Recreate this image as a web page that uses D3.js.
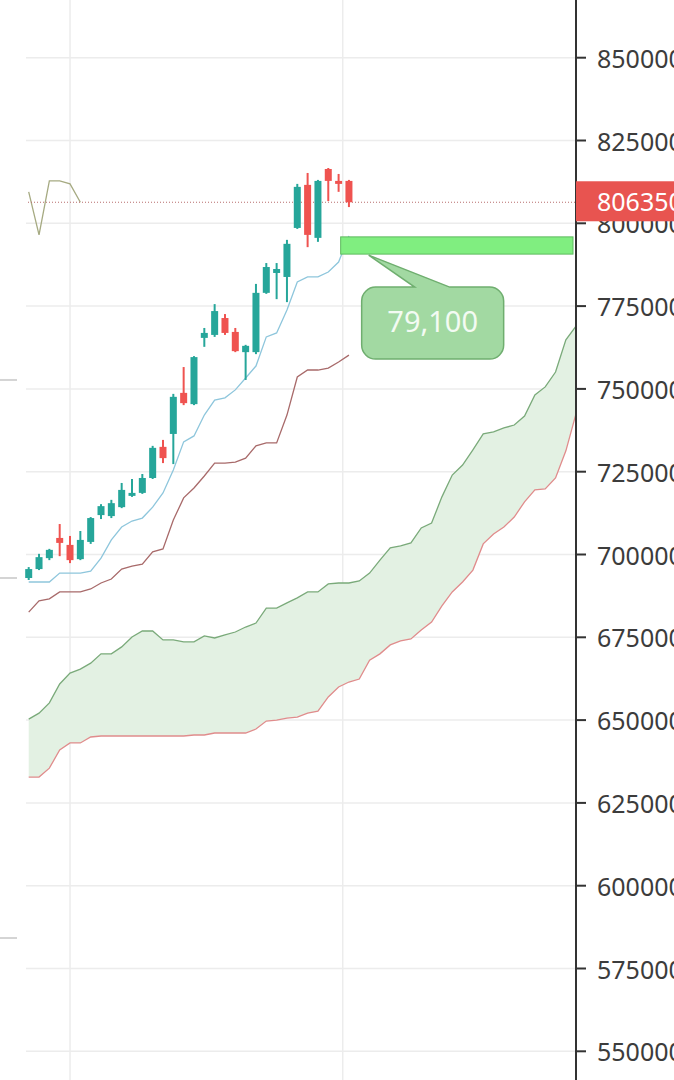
<!DOCTYPE html>
<html>
<head>
<meta charset="utf-8">
<script src="https://cdn.jsdelivr.net/npm/d3@7"></script>
<style>
  body { margin: 0; background: #fff; }
  svg { display: block; font-family: "Noto Sans", sans-serif; }
</style>
</head>
<body>
<script>
// candles (one per period)
var opens  = [692900, 695600, 698900, 705000, 702900, 698600, 703800, 711900, 711600, 714300, 717700, 718600, 723100, 732500, 736400, 748800, 745400, 765400, 766300, 771400, 767200, 761100, 761100, 779000, 785000, 783800, 798600, 811600, 795600, 816400, 812800, 812800];
var highs  = [696200, 700200, 701700, 709200, 705600, 707100, 711300, 715200, 716500, 721600, 722800, 724300, 732800, 734600, 748500, 756600, 759900, 768400, 775600, 772600, 768400, 763300, 781700, 788000, 788000, 795000, 811900, 815200, 813100, 816700, 814900, 813100];
var lows   = [692300, 695300, 698300, 699500, 697400, 698300, 703200, 710700, 711000, 714000, 717400, 718300, 722800, 727600, 727300, 745100, 745100, 762700, 765700, 766300, 761100, 752700, 760500, 778700, 777100, 776200, 798300, 792800, 794400, 806700, 809500, 804900];
var closes = [695600, 699200, 701400, 703500, 698300, 704400, 711000, 714600, 715500, 719500, 718600, 723100, 732200, 729100, 747600, 745700, 759600, 766900, 773500, 766900, 761400, 763000, 779000, 786800, 786200, 793800, 811000, 796500, 812800, 812800, 811900, 806350];

// ichimoku lines
var tenkan = [691700, 691700, 691700, 694400, 694400, 694400, 695000, 698900, 704400, 708300, 710100, 711000, 714300, 718600, 725500, 734000, 735800, 742100, 746600, 747300, 749700, 753300, 756900, 765700, 766900, 773800, 782300, 783800, 783800, 785300, 788300, 796200];
var kijun = [682600, 686000, 686600, 688700, 688700, 688700, 689600, 691400, 692600, 695600, 696500, 697100, 700800, 701700, 710400, 717100, 720100, 723700, 727600, 727600, 727900, 729100, 732800, 733700, 733700, 742100, 753600, 755700, 755700, 756300, 758100, 760200];
var spanA = [650300, 652100, 655200, 660900, 664200, 665400, 667200, 670000, 670000, 672100, 675100, 676900, 676900, 674200, 674200, 673600, 673600, 675400, 674800, 675700, 676600, 678100, 679300, 683800, 683800, 685400, 686900, 688700, 688700, 691100, 691400, 691400, 692000, 694400, 698300, 702000, 702600, 703500, 708000, 709500, 717400, 724000, 727000, 731600, 736400, 737000, 738200, 739100, 741800, 748200, 750600, 755100, 764800, 769000];
var spanB = [632800, 632800, 635500, 641000, 643100, 643100, 644900, 645200, 645200, 645200, 645200, 645200, 645200, 645200, 645200, 645200, 645500, 645500, 646100, 646100, 646100, 646100, 647300, 649700, 650000, 650600, 650900, 652100, 652700, 657000, 660000, 661500, 662400, 668100, 670000, 672700, 673900, 674500, 677200, 679600, 684500, 688700, 691700, 695300, 703200, 706200, 708300, 711300, 715900, 719500, 719800, 723100, 731300, 742700];
var lagging = [809500, 796500, 812800, 812800, 811900, 806350];

var yTicks = [550000, 575000, 600000, 625000, 650000, 675000, 700000, 725000, 750000, 775000, 800000, 825000, 850000];
var timeGrid = [4, 30.4];
var lastPrice = 806350;

// target zone + callout
var zoneFrom = 30.2;
var zoneLow = 790700;
var zoneHigh = 795900;
var zoneLabel = "79,100";

// marks of the neighbouring panel at the left edge
var leftMarks = [752700, 692900, 584200];

var w = 674;
var h = 1080;
var axisX = 576;

var x = d3.scaleLinear().domain([0, 53]).range([28.7, 576.2]);
var y = d3.scaleLinear().domain([550000, 850000]).range([1051.3, 57.7]);

var svg = d3.select("body").append("svg")
    .attr("width", w)
    .attr("height", h);

svg.append("defs").append("clipPath").attr("id", "plot")
    .append("rect").attr("x", 0).attr("y", 0).attr("width", axisX).attr("height", h);

//grid
svg.append("g").selectAll("line")
    .data(yTicks)
    .enter().append("line")
    .attr("x1", 26).attr("x2", axisX)
    .attr("y1", function(d) { return y(d); })
    .attr("y2", function(d) { return y(d); })
    .attr("stroke", "#ececec").attr("stroke-width", 1.5);

svg.append("g").selectAll("line")
    .data(timeGrid)
    .enter().append("line")
    .attr("x1", function(d) { return x(d); })
    .attr("x2", function(d) { return x(d); })
    .attr("y1", 0).attr("y2", h)
    .attr("stroke", "#ececec").attr("stroke-width", 1.5);

svg.append("g").selectAll("line")
    .data(leftMarks)
    .enter().append("line")
    .attr("x1", 0).attr("x2", 17)
    .attr("y1", function(d) { return y(d); })
    .attr("y2", function(d) { return y(d); })
    .attr("stroke", "#d4d4d4").attr("stroke-width", 2);

var plot = svg.append("g").attr("clip-path", "url(#plot)");

//cloud
var cloud = d3.range(spanA.length);
plot.append("path")
    .datum(cloud)
    .attr("d", d3.area()
        .x(function(i) { return x(i); })
        .y0(function(i) { return y(spanB[i]); })
        .y1(function(i) { return y(spanA[i]); }))
    .attr("fill", "#e3f1e3");

function drawLine(values, color, offset) {
    plot.append("path")
        .datum(values)
        .attr("d", d3.line()
            .x(function(d, i) { return x(i + (offset || 0)); })
            .y(function(d) { return y(d); }))
        .attr("fill", "none")
        .attr("stroke", color)
        .attr("stroke-width", 1.3);
}

drawLine(spanA, "#7aaa7a");
drawLine(spanB, "#e08c8c");
drawLine(kijun, "#a86a6a");
drawLine(tenkan, "#8ec6dc");
drawLine(lagging, "#a6aa82");

// last price dotted line
plot.append("line")
    .attr("x1", 28).attr("x2", axisX)
    .attr("y1", y(lastPrice)).attr("y2", y(lastPrice))
    .attr("stroke", "#b86e6e")
    .attr("stroke-width", 1.2)
    .attr("stroke-dasharray", "1,2");

//candles
var up = "#26a69a";
var down = "#ef5350";
var candles = plot.append("g").selectAll("g")
    .data(opens)
    .enter().append("g");

candles.append("line")
    .attr("x1", function(d, i) { return x(i); })
    .attr("x2", function(d, i) { return x(i); })
    .attr("y1", function(d, i) { return y(highs[i]); })
    .attr("y2", function(d, i) { return y(lows[i]); })
    .attr("stroke", function(d, i) { return closes[i] >= d ? up : down; })
    .attr("stroke-width", 2);

candles.append("rect")
    .attr("x", function(d, i) { return x(i) - 3.5; })
    .attr("y", function(d, i) { return y(Math.max(d, closes[i])); })
    .attr("width", 7)
    .attr("height", function(d, i) { return Math.max(2, Math.abs(y(d) - y(closes[i]))); })
    .attr("fill", function(d, i) { return closes[i] >= d ? up : down; });

//zone + callout
var zx = x(zoneFrom);
var zy = y(zoneHigh);
var zb = y(zoneLow);
svg.append("rect")
    .attr("x", zx).attr("y", zy)
    .attr("width", axisX - 3 - zx)
    .attr("height", zb - zy)
    .attr("fill", "#80ee80")
    .attr("stroke", "#5fba5f")
    .attr("stroke-width", 1);

var bx = zx + 21, by = zb + 33, bw = 142, bh = 72, r = 14;
var callout = d3.path();
callout.moveTo(bx + r, by);
callout.lineTo(zx + 74, by);
callout.lineTo(zx + 28, zb + 1);
callout.lineTo(zx + 109, by);
callout.lineTo(bx + bw - r, by);
callout.arcTo(bx + bw, by, bx + bw, by + r, r);
callout.lineTo(bx + bw, by + bh - r);
callout.arcTo(bx + bw, by + bh, bx + bw - r, by + bh, r);
callout.lineTo(bx + r, by + bh);
callout.arcTo(bx, by + bh, bx, by + bh - r, r);
callout.lineTo(bx, by + r);
callout.arcTo(bx, by, bx + r, by, r);
callout.closePath();

svg.append("path")
    .attr("d", callout.toString())
    .attr("fill", "#a2d9a2")
    .attr("stroke", "#6fae6f")
    .attr("stroke-width", 1.5);

svg.append("text")
    .attr("x", bx + bw / 2)
    .attr("y", by + bh / 2 - 3)
    .attr("text-anchor", "middle")
    .attr("dominant-baseline", "central")
    .attr("fill", "#f3fbf3")
    .style("font-size", "29px")
    .text(zoneLabel);

//right axis
svg.append("line")
    .attr("x1", axisX).attr("x2", axisX)
    .attr("y1", 0).attr("y2", h)
    .attr("stroke", "#333").attr("stroke-width", 2);

var axis = svg.append("g").selectAll("g")
    .data(yTicks)
    .enter().append("g");

axis.append("line")
    .attr("x1", axisX).attr("x2", axisX + 10)
    .attr("y1", function(d) { return y(d); })
    .attr("y2", function(d) { return y(d); })
    .attr("stroke", "#333").attr("stroke-width", 2);

axis.append("text")
    .attr("x", 597)
    .attr("y", function(d) { return y(d); })
    .attr("dominant-baseline", "central")
    .attr("fill", "#3c3c3c")
    .style("font-size", "25px")
    .text(function(d) { return d; });

// last price label
svg.append("rect")
    .attr("x", axisX).attr("y", y(lastPrice) - 21)
    .attr("width", w - axisX).attr("height", 40)
    .attr("fill", "#e85450");

svg.append("text")
    .attr("x", 597)
    .attr("y", y(lastPrice) - 1)
    .attr("dominant-baseline", "central")
    .attr("fill", "#fff")
    .style("font-size", "25px")
    .text(lastPrice);
</script>
</body>
</html>
